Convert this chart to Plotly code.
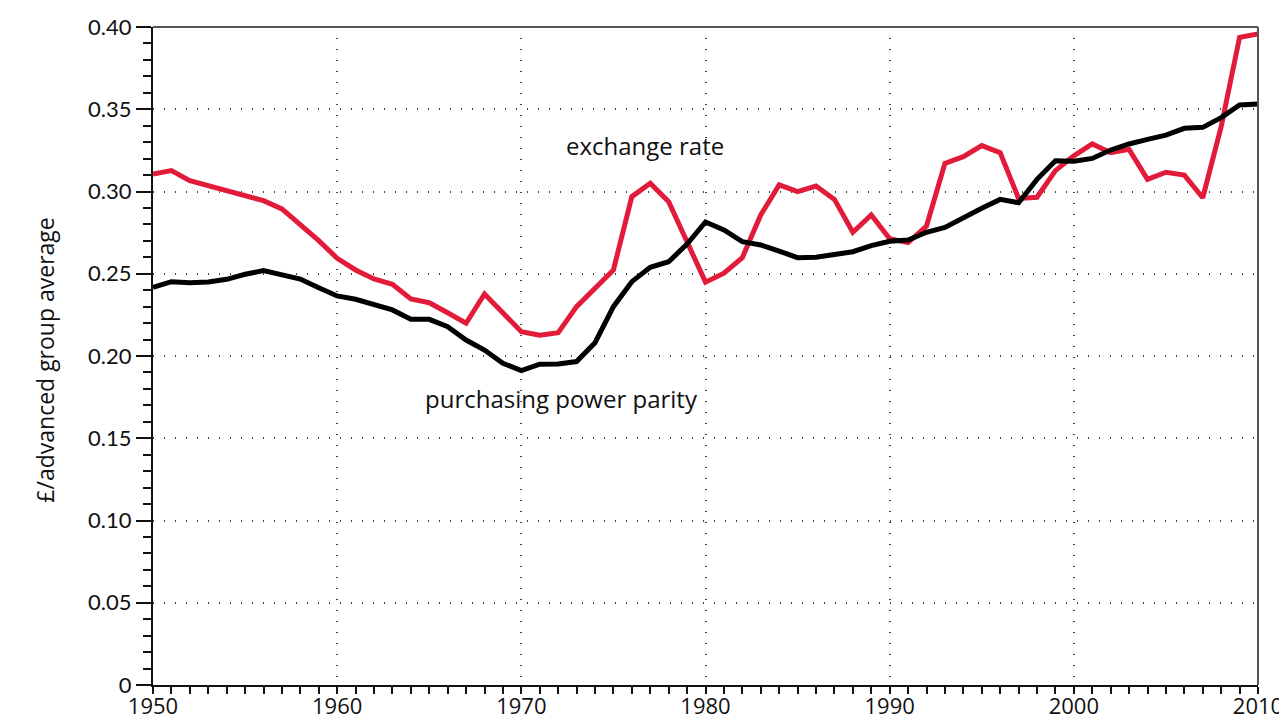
import plotly.graph_objects as go

years = list(range(1950, 2011))

exchange_rate = [
    0.3106, 0.3127, 0.3066, 0.3035, 0.3005, 0.2969, 0.2944, 0.2894, 0.2802, 0.2701,
    0.2594, 0.2523, 0.2468, 0.2436, 0.2347, 0.2324, 0.2263, 0.2199, 0.2377, 0.2259,
    0.2148, 0.2126, 0.2142, 0.2300, 0.2411, 0.2523, 0.2969, 0.3050, 0.2938, 0.2695,
    0.2449, 0.2503, 0.2598, 0.2857, 0.3040, 0.2999, 0.3033, 0.2952, 0.2752, 0.2857,
    0.2713, 0.2689, 0.2790, 0.3171, 0.3212, 0.3279, 0.3236, 0.2958, 0.2965, 0.3127,
    0.3217, 0.3289, 0.3236, 0.3256, 0.3074, 0.3117, 0.3100, 0.2962, 0.3394, 0.3937,
    0.3957,
]

ppp = [
    0.2418, 0.2452, 0.2446, 0.2450, 0.2466, 0.2497, 0.2519, 0.2492, 0.2468, 0.2415,
    0.2365, 0.2345, 0.2310, 0.2280, 0.2223, 0.2223, 0.2178, 0.2097, 0.2036, 0.1956,
    0.1911, 0.1950, 0.1951, 0.1966, 0.2081, 0.2300, 0.2452, 0.2539, 0.2573, 0.2681,
    0.2815, 0.2766, 0.2695, 0.2675, 0.2638, 0.2598, 0.2600, 0.2614, 0.2634, 0.2671,
    0.2697, 0.2705, 0.2752, 0.2782, 0.2843, 0.2898, 0.2952, 0.2932, 0.3074, 0.3187,
    0.3184, 0.3201, 0.3252, 0.3289, 0.3317, 0.3343, 0.3384, 0.3390, 0.3449, 0.3526,
    0.3532,
]

y_tickvals = [0, 0.05, 0.10, 0.15, 0.20, 0.25, 0.30, 0.35, 0.40]
y_ticktext = ["0", "0.05", "0.10", "0.15", "0.20", "0.25", "0.30", "0.35", "0.40"]
x_tickvals = [1950, 1960, 1970, 1980, 1990, 2000, 2010]

label_exchange = "exchange rate"
label_ppp = "purchasing power parity"
y_title = "£/advanced group average"

fig = go.Figure()
fig.add_trace(go.Scatter(x=years, y=exchange_rate, mode="lines",
                         line=dict(color="#E31B3B", width=5), name=label_exchange))
fig.add_trace(go.Scatter(x=years, y=ppp, mode="lines",
                         line=dict(color="#000000", width=5), name=label_ppp))

fig.add_annotation(x=1976.7, y=0.3277, xref="x", yref="y", text=label_exchange,
                   showarrow=False, font=dict(size=24, color="#111", family="Open Sans"))
fig.add_annotation(x=1972.2, y=0.174, xref="x", yref="y", text=label_ppp,
                   showarrow=False, font=dict(size=24, color="#111", family="Open Sans"))

# y-axis title
fig.add_annotation(x=-0.098, y=0.494, xref="paper", yref="paper", text=y_title,
                   textangle=-90, showarrow=False, xanchor="center", yanchor="middle",
                   font=dict(size=23, color="#111", family="Open Sans"))

# top and right frame lines
fig.add_shape(type="line", xref="paper", yref="paper", x0=0, x1=1, y0=1, y1=1,
              line=dict(color="#555", width=2))
fig.add_shape(type="line", xref="paper", yref="paper", x0=1, x1=1, y0=0, y1=1,
              line=dict(color="#555", width=2))

# page body has an 8px default margin; figure sized so it ends at the window edge
fig.update_layout(
    width=1279, height=714,
    margin=dict(l=145, r=29, t=19, b=37, autoexpand=False),
    plot_bgcolor="white", paper_bgcolor="white",
    showlegend=False,
    font=dict(family="Open Sans", color="#111"),
)

fig.update_xaxes(
    range=[1950, 2010], automargin=False,
    tickvals=x_tickvals, ticktext=[str(v) for v in x_tickvals],
    ticks="outside", ticklen=7, tickwidth=1.5, tickcolor="#111",
    minor=dict(dtick=1, tick0=1950, ticks="outside", ticklen=7, tickwidth=1.5, tickcolor="#111", showgrid=False),
    showline=True, linecolor="#111", linewidth=2,
    showgrid=True, gridcolor="#444", gridwidth=1.5, griddash="1px,10px",
    tickfont=dict(size=22, family="Open Sans", color="#111"),
    ticklabelstandoff=-6,
    zeroline=False,
)

fig.update_yaxes(
    range=[0, 0.40], automargin=False,
    tickvals=y_tickvals, ticktext=y_ticktext,
    ticks="outside", ticklen=15, tickwidth=1.5, tickcolor="#111",
    minor=dict(dtick=0.01, tick0=0, ticks="outside", ticklen=8, tickwidth=1.5, tickcolor="#111", showgrid=False),
    showline=True, linecolor="#111", linewidth=2,
    showgrid=True, gridcolor="#444", gridwidth=1.5, griddash="1px,10px",
    tickfont=dict(size=22, family="Lato", color="#111"),
    zeroline=False,
)

fig.write_html("out.html")
